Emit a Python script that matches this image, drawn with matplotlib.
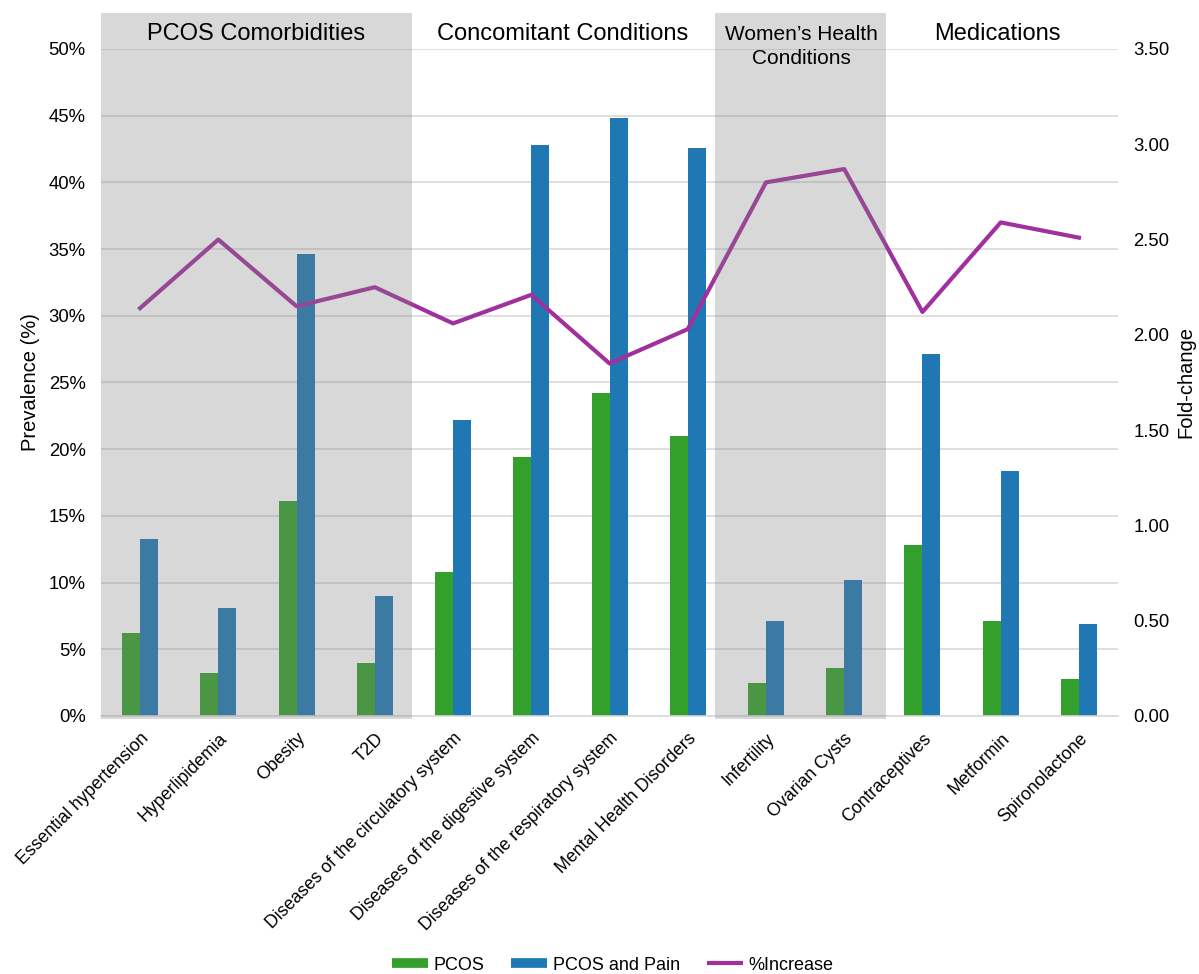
import matplotlib.pyplot as plt
from matplotlib.lines import Line2D
import numpy as np

plt.rcParams['font.family'] = ['Liberation Sans', 'DejaVu Sans']

categories = ['Essential hypertension', 'Hyperlipidemia', 'Obesity', 'T2D',
              'Diseases of the circulatory system', 'Diseases of the digestive system',
              'Diseases of the respiratory system', 'Mental Health Disorders',
              'Infertility', 'Ovarian Cysts', 'Contraceptives', 'Metformin',
              'Spironolactone']
pcos = [6.2, 3.2, 16.1, 4.0, 10.8, 19.4, 24.2, 21.0, 2.5, 3.6, 12.8, 7.1, 2.8]
pcos_pain = [13.3, 8.1, 34.6, 9.0, 22.2, 42.8, 44.8, 42.6, 7.1, 10.2, 27.1, 18.4, 6.9]
fold = [2.14, 2.50, 2.15, 2.25, 2.06, 2.21, 1.85, 2.03, 2.80, 2.87, 2.12, 2.59, 2.51]

groups = ['PCOS Comorbidities', 'Concomitant Conditions',
          "Women\u2019s Health\nConditions", 'Medications']
group_x = [1.48, 5.40, 8.45, 10.96]
shaded = [(-0.5, 3.47), (7.35, 9.54)]

green = '#33a02c'
blue = '#1f78b4'
purple = '#a0309e'

fig = plt.figure(figsize=(11.99, 9.74), dpi=100)
ax = fig.add_axes([0.0842, 0.2649, 0.8483, 0.6848])
ax2 = ax.twinx()

x = np.arange(len(categories))
w = 0.23
ax.bar(x - w / 2, np.array(pcos) / 100, w, color=green, zorder=2)
ax.bar(x + w / 2, np.array(pcos_pain) / 100, w, color=blue, zorder=2)

ax.set_xlim(-0.5, len(categories) - 0.5)
ax.set_ylim(0, 0.5)
yt = np.arange(0, 0.51, 0.05)
ax.set_yticks(yt)
ax.set_yticklabels([f'{int(round(v * 100))}%' for v in yt], fontsize=13.3)
ax.yaxis.grid(True, color='#d9d9d9', lw=1.2, zorder=0)
ax.set_axisbelow(True)
for s in ['top', 'left', 'right']:
    ax.spines[s].set_visible(False)
ax.spines['bottom'].set_color('#d9d9d9')
ax.spines['bottom'].set_linewidth(1.2)
ax.tick_params(axis='y', length=0, pad=11)
ax.tick_params(axis='x', length=0, pad=10)
ax.set_xticks(x)
ax.set_xticklabels(categories, rotation=45, ha='right', rotation_mode='anchor', fontsize=12.8)
ax.set_ylabel('Prevalence (%)', fontsize=14.5, labelpad=6)

ax2.plot(x, fold, color=purple, lw=3, zorder=3)
ax2.set_ylim(0, 3.5)
yt2 = np.arange(0, 3.51, 0.5)
ax2.set_yticks(yt2)
ax2.set_yticklabels([f'{v:.2f}' for v in yt2], fontsize=13.3)
ax2.tick_params(axis='y', length=0, pad=11)
for s in ['top', 'left', 'right', 'bottom']:
    ax2.spines[s].set_visible(False)
ax2.set_ylabel('Fold-change', fontsize=14.5, labelpad=5)

# shaded group boxes drawn over bars and line
for x0, x1 in shaded:
    ax2.axvspan(x0, x1, ymin=-0.004, ymax=1.054, color='#808080', alpha=0.3,
                lw=0, clip_on=False, zorder=5)

tr = ax2.get_xaxis_transform()
for g, gx in zip(groups, group_x):
    if '\n' in g:
        ax2.text(gx, 1.004, g, transform=tr, ha='center', va='center', fontsize=15,
                 linespacing=1.35, zorder=6)
    else:
        ax2.text(gx, 1.023, g, transform=tr, ha='center', va='center', fontsize=17,
                 zorder=6)

handles = [Line2D([], [], color=green, lw=7, solid_capstyle='butt'),
           Line2D([], [], color=blue, lw=7, solid_capstyle='butt'),
           Line2D([], [], color=purple, lw=3, solid_capstyle='butt')]
fig.legend(handles, ['PCOS', 'PCOS and Pain', '%Increase'], loc='center',
           bbox_to_anchor=(0.511, 0.009), ncol=3, frameon=False, fontsize=13,
           handlelength=2.0, columnspacing=1.5, handletextpad=0.3)

fig.savefig('out.png', dpi=100)
